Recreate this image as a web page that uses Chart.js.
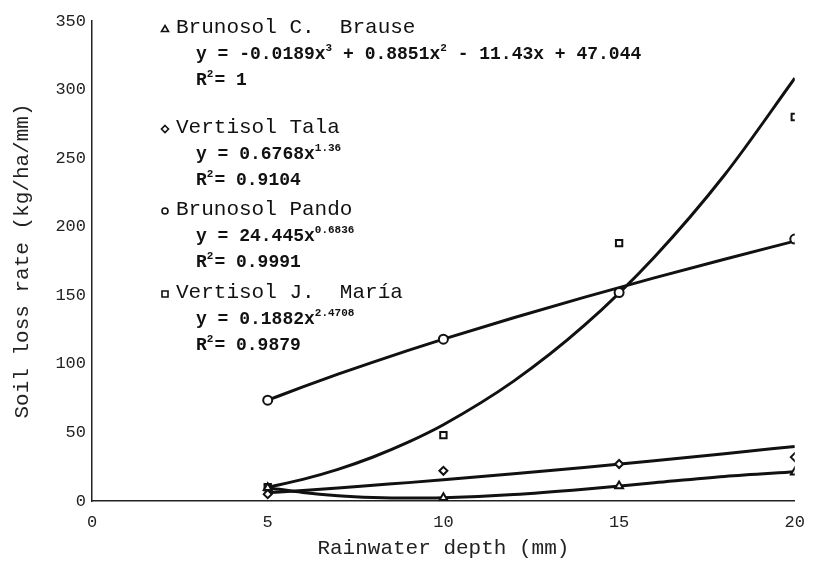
<!DOCTYPE html>
<html>
<head>
<meta charset="utf-8">
<script src="https://cdn.jsdelivr.net/npm/chart.js@4"></script>
<style>
html,body{margin:0;padding:0;background:#fff;}
#wrap{width:816px;height:578px;}
</style>
</head>
<body>
<div id="wrap"><canvas id="c" width="816" height="578"></canvas></div>
<script>
// ---- data ----
const xValues = [5, 10, 15, 20];
const brausePts = [9.7, 2.3, 11, 21];
const talaPts = [5, 22, 27, 32];
const pandoPts = [73.5, 118, 152, 191];
const mariaPts = [10, 48, 188, 280];

const trendX = [5, 6, 7, 8, 9, 10, 12, 14, 16, 18, 20];
const brauseTrend = [9.7, 6.2, 3.9, 2.6, 2.1, 2.4, 4.7, 8.6, 13.3, 17.9, 21.3];
const talaTrend = [6.1, 7.7, 9.5, 11.5, 13.4, 15.5, 19.9, 24.5, 29.4, 34.5, 39.8];
const pandoTrend = [73.5, 83.2, 92.5, 101.3, 109.8, 118.0, 133.6, 148.5, 162.7, 176.3, 189.5];
const mariaTrend = [10.0, 15.8, 23.1, 32.1, 42.9, 55.6, 87.4, 127.8, 177.8, 237.7, 308.3];

const xTicks = [0, 5, 10, 15, 20];
const yTicks = [0, 50, 100, 150, 200, 250, 300, 350];

const seriesNames = ["Brunosol C.  Brause", "Vertisol Tala", "Brunosol Pando", "Vertisol J.  María"];
// equation parts: [base, superscript] pairs
const equations = [
  [["y = -0.0189x", "3"], [" + 0.8851x", "2"], [" - 11.43x + 47.044", ""]],
  [["y = 0.6768x", "1.36"]],
  [["y = 24.445x", "0.6836"]],
  [["y = 0.1882x", "2.4708"]]
];
const r2Values = ["1", "0.9104", "0.9991", "0.9879"];
const markerStyles = ["triangle", "rectRot", "circle", "rect"];

const xyPairs = (xs, ys) => xs.map((x, i) => ({x: x, y: ys[i]}));

function trendDS(ys) {
  return {
    type: 'line', data: xyPairs(trendX, ys), borderColor: '#111', borderWidth: 3,
    pointRadius: 0, fill: false, tension: 0.4, cubicInterpolationMode: 'monotone', order: 2
  };
}
function ptsDS(ys, style) {
  return {
    type: 'scatter', data: xyPairs(xValues, ys), showLine: false,
    pointStyle: style, pointRadius: style === 'rectRot' ? 4 : 4.5,
    pointBackgroundColor: '#fff', pointBorderColor: '#111', pointBorderWidth: 2, order: 1
  };
}

const legendPlugin = {
  id: 'eqLegend',
  afterDatasetsDraw(chart) {
    const ctx = chart.ctx;
    const tops = [33, 133, 215, 298];
    const titleX = 176, eqX = 196;
    ctx.save();
    ctx.fillStyle = '#111';
    ctx.strokeStyle = '#111';
    ctx.textBaseline = 'alphabetic';
    for (let i = 0; i < 4; i++) {
      const by = tops[i];
      // symbol
      const sx = 165, sy = by - 4;
      ctx.lineWidth = 1.6;
      ctx.beginPath();
      if (markerStyles[i] === 'triangle') {
        ctx.moveTo(sx, sy - 3.5); ctx.lineTo(sx + 3.5, sy + 2.5); ctx.lineTo(sx - 3.5, sy + 2.5); ctx.closePath();
      } else if (markerStyles[i] === 'rectRot') {
        ctx.moveTo(sx, sy - 3.5); ctx.lineTo(sx + 3.5, sy); ctx.lineTo(sx, sy + 3.5); ctx.lineTo(sx - 3.5, sy); ctx.closePath();
      } else if (markerStyles[i] === 'circle') {
        ctx.arc(sx, sy, 3, 0, Math.PI * 2);
      } else {
        ctx.rect(sx - 3, sy - 3, 6, 6);
      }
      ctx.stroke();
      // title
      ctx.font = "21px 'Liberation Mono'";
      ctx.fillText(seriesNames[i], titleX, by);
      // equation
      let x = eqX;
      const ey = by + 26;
      for (const part of equations[i]) {
        ctx.font = "bold 18px 'Liberation Mono'";
        ctx.fillText(part[0], x, ey);
        x += ctx.measureText(part[0]).width;
        if (part[1]) {
          ctx.font = "bold 11px 'Liberation Mono'";
          ctx.fillText(part[1], x, ey - 8);
          x += ctx.measureText(part[1]).width;
        }
      }
      // R2
      const ry = by + 52;
      ctx.font = "bold 18px 'Liberation Mono'";
      ctx.fillText("R", eqX, ry);
      let rx = eqX + ctx.measureText("R").width;
      ctx.font = "bold 11px 'Liberation Mono'";
      ctx.fillText("2", rx, ry - 8);
      rx += ctx.measureText("2").width;
      ctx.font = "bold 18px 'Liberation Mono'";
      ctx.fillText("= " + r2Values[i], rx + 1, ry);
    }
    ctx.restore();
  }
};

new Chart(document.getElementById('c'), {
  data: {
    datasets: [
      trendDS(brauseTrend), trendDS(talaTrend), trendDS(pandoTrend), trendDS(mariaTrend),
      ptsDS(brausePts, markerStyles[0]), ptsDS(talaPts, markerStyles[1]),
      ptsDS(pandoPts, markerStyles[2]), ptsDS(mariaPts, markerStyles[3])
    ]
  },
  options: {
    responsive: false,
    animation: false,
    layout: {padding: {left: 0, right: 20, top: 21, bottom: 0}},
    plugins: {legend: {display: false}, tooltip: {enabled: false}},
    scales: {
      x: {
        type: 'linear', min: 0, max: 20,
        afterBuildTicks: s => { s.ticks = xTicks.map(v => ({value: v})); },
        afterFit: s => { s.height = 77; },
        grid: {display: false, drawTicks: false, tickLength: 0},
        border: {display: true, color: '#222', width: 1.5},
        ticks: {color: '#222', padding: 11, font: {family: "'Liberation Mono'", size: 17}},
        title: {display: true, text: 'Rainwater depth (mm)', color: '#222',
          font: {family: "'Liberation Mono'", size: 21}, padding: {top: 0, bottom: 17}}
      },
      y: {
        type: 'linear', min: 0, max: 350,
        afterBuildTicks: s => { s.ticks = yTicks.map(v => ({value: v})); },
        afterFit: s => { s.width = 92; },
        grid: {display: false, drawTicks: false, tickLength: 0},
        border: {display: true, color: '#222', width: 1.5},
        ticks: {color: '#222', padding: 6, font: {family: "'Liberation Mono'", size: 17}},
        title: {display: true, text: 'Soil loss rate (kg/ha/mm)', color: '#222',
          font: {family: "'Liberation Mono'", size: 21}, padding: {top: 10, bottom: 0}}
      }
    }
  },
  plugins: [legendPlugin]
});
</script>
</body>
</html>
